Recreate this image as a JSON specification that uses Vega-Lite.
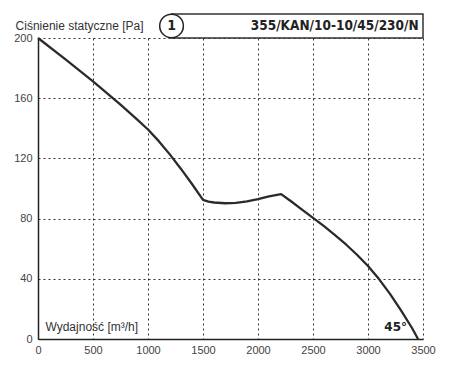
{
  "$schema": "https://vega.github.io/schema/vega-lite/v6.json",
  "width": 385,
  "height": 301,
  "autosize": {"type": "none"},
  "padding": {"left": 38, "top": 38, "right": 33, "bottom": 26},
  "background": "white",
  "config": {
    "view": {"stroke": null},
    "axis": {
      "grid": true,
      "gridColor": "#333333",
      "gridDash": [2, 3],
      "gridWidth": 1,
      "gridOpacity": 1,
      "domainColor": "#222222",
      "domainWidth": 1.5,
      "ticks": false,
      "labelColor": "#444444",
      "labelFont": "Liberation Sans",
      "labelFontSize": 11,
      "title": null
    }
  },
  "datasets": {
    "curve": [
      {"q": 0, "p": 200},
      {"q": 250, "p": 185.8},
      {"q": 500, "p": 171.2},
      {"q": 750, "p": 155.8},
      {"q": 900, "p": 146},
      {"q": 1000, "p": 139.2},
      {"q": 1100, "p": 131.3},
      {"q": 1200, "p": 122.5},
      {"q": 1300, "p": 113},
      {"q": 1400, "p": 103},
      {"q": 1500, "p": 92.5},
      {"q": 1550, "p": 91.3},
      {"q": 1600, "p": 90.7},
      {"q": 1700, "p": 90.2},
      {"q": 1800, "p": 90.5},
      {"q": 1900, "p": 91.5},
      {"q": 2000, "p": 93},
      {"q": 2100, "p": 94.8},
      {"q": 2210, "p": 96.3},
      {"q": 2300, "p": 91.5},
      {"q": 2400, "p": 86},
      {"q": 2500, "p": 80.5},
      {"q": 2600, "p": 75},
      {"q": 2700, "p": 69},
      {"q": 2800, "p": 62.8},
      {"q": 2900, "p": 56},
      {"q": 3000, "p": 48.5},
      {"q": 3100, "p": 39.8},
      {"q": 3200, "p": 30},
      {"q": 3300, "p": 19},
      {"q": 3400, "p": 7.3},
      {"q": 3455, "p": 0}
    ],
    "box": [{"x1": 1214, "x2": 3500, "y1": 200, "y2": 216}],
    "badge": [{"q": 1214, "p": 208, "t": "1"}],
    "labels": [
      {"q": -204, "p": 208, "t": "Ciśnienie statyczne [Pa]"},
      {"q": 68, "p": 8.3, "t": "Wydajność [m³/h]"}
    ],
    "model": [{"q": 3460, "p": 208, "t": "355/KAN/10-10/45/230/N"}],
    "angle": [{"q": 3355, "p": 7.8, "t": "45°"}]
  },
  "layer": [
    {
      "data": {"name": "curve"},
      "mark": {"type": "line", "color": "#2a2a2a", "strokeWidth": 2.3, "interpolate": "linear", "strokeJoin": "round", "clip": false},
      "encoding": {
        "x": {"field": "q", "type": "quantitative", "scale": {"domain": [0, 3500], "nice": false},
          "axis": {"values": [0, 500, 1000, 1500, 2000, 2500, 3000, 3500], "format": "d", "labelPadding": 5, "labelFlush": false}},
        "y": {"field": "p", "type": "quantitative", "scale": {"domain": [0, 200], "nice": false},
          "axis": {"values": [0, 40, 80, 120, 160, 200], "format": "d", "labelPadding": 6}}
      }
    },
    {
      "data": {"name": "box"},
      "mark": {"type": "rect", "fill": "white", "stroke": "#333333", "strokeWidth": 1.5, "clip": false},
      "encoding": {
        "x": {"field": "x1", "type": "quantitative"},
        "x2": {"field": "x2"},
        "y": {"field": "y1", "type": "quantitative"},
        "y2": {"field": "y2"}
      }
    },
    {
      "data": {"name": "badge"},
      "mark": {"type": "point", "shape": "circle", "size": 560, "filled": false, "fill": "white", "fillOpacity": 1, "stroke": "#222222", "strokeWidth": 1.5, "opacity": 1, "clip": false},
      "encoding": {
        "x": {"field": "q", "type": "quantitative"},
        "y": {"field": "p", "type": "quantitative"}
      }
    },
    {
      "data": {"name": "badge"},
      "mark": {"type": "text", "font": "DejaVu Sans Condensed", "fontWeight": "bold", "fontSize": 14, "color": "#222222", "align": "center", "baseline": "middle", "clip": false},
      "encoding": {
        "x": {"field": "q", "type": "quantitative"},
        "y": {"field": "p", "type": "quantitative"},
        "text": {"field": "t"}
      }
    },
    {
      "data": {"name": "model"},
      "mark": {"type": "text", "font": "DejaVu Sans Condensed", "fontWeight": "bold", "fontSize": 13.5, "color": "#222222", "align": "right", "baseline": "middle", "clip": false},
      "encoding": {
        "x": {"field": "q", "type": "quantitative"},
        "y": {"field": "p", "type": "quantitative"},
        "text": {"field": "t"}
      }
    },
    {
      "data": {"name": "labels"},
      "mark": {"type": "text", "font": "Liberation Sans", "fontSize": 12, "color": "#333333", "align": "left", "baseline": "middle", "clip": false},
      "encoding": {
        "x": {"field": "q", "type": "quantitative"},
        "y": {"field": "p", "type": "quantitative"},
        "text": {"field": "t"}
      }
    },
    {
      "data": {"name": "angle"},
      "mark": {"type": "text", "font": "DejaVu Sans", "fontWeight": "bold", "fontSize": 12, "color": "#222222", "align": "right", "baseline": "middle", "clip": false},
      "encoding": {
        "x": {"field": "q", "type": "quantitative"},
        "y": {"field": "p", "type": "quantitative"},
        "text": {"field": "t"}
      }
    }
  ]
}
